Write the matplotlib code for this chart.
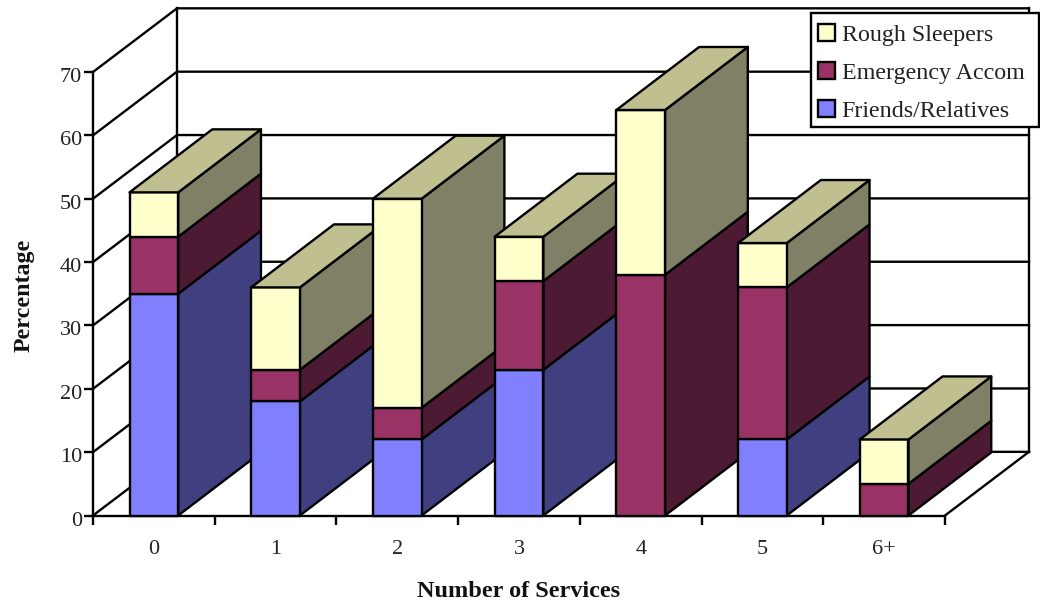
import numpy as np
import matplotlib.pyplot as plt
from matplotlib.patches import Patch, Polygon, Rectangle
from matplotlib.transforms import ScaledTranslation

plt.rcParams["font.family"] = ["Liberation Serif", "DejaVu Serif"]

categories = ["0", "1", "2", "3", "4", "5", "6+"]
friends = [35, 18, 12, 23, 0, 12, 0]
emergency = [9, 5, 5, 14, 38, 24, 5]
rough = [7, 13, 33, 7, 26, 7, 7]

series_names = ["Friends/Relatives", "Emergency Accom", "Rough Sleepers"]
front_colors = ["#8080FF", "#993366", "#FFFFCC"]
side_colors = ["#404080", "#4D1A33", "#808066"]
top_color = "#BFBF90"

# oblique offset of the back wall, in data units
WALL_DX = 0.69
WALL_DY = 10.05
BAR_DX = 0.68
BAR_DY = 9.95
BAR_W = 0.40
LW = 1.7


def draw_box(ax, x0, x1, y0, y1, face, side, top=None):
    front_pts = [(x0, y0), (x1, y0), (x1, y1), (x0, y1)]
    side_pts = [(x1, y0), (x1 + BAR_DX, y0 + BAR_DY), (x1 + BAR_DX, y1 + BAR_DY), (x1, y1)]
    polys = [(side_pts, side), (front_pts, face)]
    if top is not None:
        top_pts = [(x0, y1), (x1, y1), (x1 + BAR_DX, y1 + BAR_DY), (x0 + BAR_DX, y1 + BAR_DY)]
        polys.append((top_pts, top))
    for pts, col in polys:
        ax.add_patch(Polygon(pts, closed=True, facecolor=col, edgecolor="black",
                             linewidth=LW, joinstyle="round", clip_on=False, zorder=3))


fig = plt.figure(figsize=(10.4, 6.01), dpi=100)
ax = fig.add_axes([93 / 1040, (601 - 515.5) / 601, 852 / 1040, 443.5 / 601])
ax.set_xlim(-0.5, 6.5)
ax.set_ylim(0, 70)

# back wall, left wall and floor lines
x_left, x_right = -0.5, 6.5
for y in range(0, 80, 10):
    ax.plot([x_left, x_left + WALL_DX, x_right + WALL_DX], [y, y + WALL_DY, y + WALL_DY],
            color="black", lw=LW, clip_on=False, zorder=1)
ax.plot([x_left + WALL_DX] * 2, [WALL_DY, 70 + WALL_DY], color="black", lw=LW, clip_on=False, zorder=1)
ax.plot([x_right + WALL_DX] * 2, [WALL_DY, 70 + WALL_DY], color="black", lw=LW, clip_on=False, zorder=1)
ax.plot([x_right, x_right + WALL_DX], [0, WALL_DY], color="black", lw=LW, clip_on=False, zorder=1)

# stacked boxes, left to right so nearer faces overlap correctly
stack = np.array([friends, emergency, rough], dtype=float)
bottoms = np.vstack([np.zeros(len(categories)), np.cumsum(stack, axis=0)[:-1]])
for i in range(len(categories)):
    layers = [j for j in range(3) if stack[j, i] > 0]
    for j in layers:
        top = top_color if j == layers[-1] else None
        draw_box(ax, i - BAR_W / 2, i + BAR_W / 2, bottoms[j, i], bottoms[j, i] + stack[j, i],
                 front_colors[j], side_colors[j], top)

for name in ["top", "right"]:
    ax.spines[name].set_visible(False)
for name in ["left", "bottom"]:
    ax.spines[name].set_linewidth(LW)
    ax.spines[name].set_zorder(2)
ax.patch.set_visible(False)

ax.set_yticks(range(0, 80, 10))
ax.set_xticks(range(len(categories)))
ax.set_xticklabels(categories)
ax.set_xticks(np.arange(-0.5, 7.0, 1.0), minor=True)
ax.tick_params(axis="x", which="major", length=0, pad=18, labelsize=16, labelcolor="#222222")
ax.tick_params(axis="x", which="minor", length=6.5, width=LW)
ax.tick_params(axis="y", length=6.5, width=LW, pad=1.5, labelsize=16, labelcolor="#222222")

# y labels sit slightly below their ticks
nudge = ScaledTranslation(0, -3 / 100, fig.dpi_scale_trans)
for label in ax.get_yticklabels():
    label.set_transform(label.get_transform() + nudge)

ax.set_xlabel("Number of Services", fontweight="bold", fontsize=17.5, color="#111111")
ax.xaxis.set_label_coords((519 - 93) / 852, -(581 - 515.5) / 443.5)
ax.set_ylabel("Percentage", fontweight="bold", fontsize=17.3, color="#111111")
ax.yaxis.set_label_coords((35 - 93) / 852, (515.5 - 295) / 443.5)

# legend box is drawn separately so its size stays fixed
fig.add_artist(Rectangle((811 / 1040, 1 - 127 / 601), 228 / 1040, 114 / 601,
                         transform=fig.transFigure, facecolor="white", edgecolor="black",
                         linewidth=LW, zorder=9))
handles = [Patch(facecolor=front_colors[j], edgecolor="black", linewidth=LW) for j in [2, 1, 0]]
leg = fig.legend(handles, [series_names[j] for j in [2, 1, 0]],
                 loc="upper left", bbox_to_anchor=(811 / 1040, 1 - 17 / 601),
                 bbox_transform=fig.transFigure, fontsize=17.3, frameon=False,
                 borderaxespad=0, borderpad=0.31,
                 handlelength=0.67, handleheight=0.67, handletextpad=0.3, labelspacing=0.68,
                 labelcolor="#222222")
leg.set_zorder(10)

fig.savefig("out.png", dpi=100)
